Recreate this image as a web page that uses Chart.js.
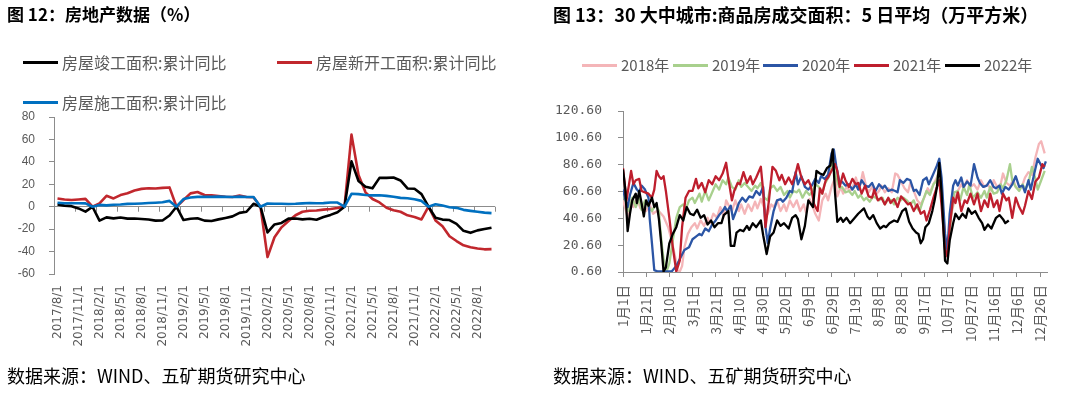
<!DOCTYPE html>
<html>
<head>
<meta charset="utf-8">
<script src="https://cdn.jsdelivr.net/npm/chart.js@4.4.1/dist/chart.umd.min.js"></script>
<style>
body{margin:0;width:1080px;height:398px;background:#fff;position:relative;overflow:hidden;font-family:"Noto Sans CJK SC",sans-serif}
canvas{position:absolute;top:0}
.t{position:absolute;white-space:nowrap;color:#000}
.title{font-weight:bold;font-size:17px;top:3px;line-height:22px}
.note{font-size:18px;top:363px;line-height:24px}
.lg{position:absolute;display:flex;align-items:center;color:#595959;white-space:nowrap;line-height:20px}
.lg i{display:inline-block;width:35px;height:3px;margin-right:4px}
</style>
</head>
<body>
<canvas id="c1" width="540" height="398" style="left:0"></canvas>
<canvas id="c2" width="540" height="398" style="left:540px"></canvas>

<div class="t title" style="left:7px">图 12：房地产数据（%）</div>
<div class="t title" style="left:553px;font-size:18px">图 13：30 大中城市:商品房成交面积：5 日平均（万平方米）</div>

<div class="lg" style="left:23px;top:52px;font-size:16px"><i style="background:#000"></i>房屋竣工面积:累计同比</div>
<div class="lg" style="left:277px;top:52px;font-size:16px"><i style="background:#C1272D"></i>房屋新开工面积:累计同比</div>
<div class="lg" style="left:23px;top:92px;font-size:16px"><i style="background:#0070C0"></i>房屋施工面积:累计同比</div>

<div class="lg" style="left:582px;top:55px;font-size:15px"><i style="background:#F4B5B8"></i>2018年</div>
<div class="lg" style="left:673px;top:55px;font-size:15px"><i style="background:#A8D08D"></i>2019年</div>
<div class="lg" style="left:763px;top:55px;font-size:15px"><i style="background:#2B55A5"></i>2020年</div>
<div class="lg" style="left:854px;top:55px;font-size:15px"><i style="background:#BE1E2D"></i>2021年</div>
<div class="lg" style="left:945px;top:55px;font-size:15px"><i style="background:#000"></i>2022年</div>

<div class="t note" style="left:7px">数据来源：WIND、五矿期货研究中心</div>
<div class="t note" style="left:553px">数据来源：WIND、五矿期货研究中心</div>

<script>
// ---------- 图12 数据（月度，累计同比 %） ----------
const months = [
  '2017/8/1','2017/9/1','2017/10/1','2017/11/1','2017/12/1',
  '2018/1/1','2018/2/1','2018/3/1','2018/4/1','2018/5/1','2018/6/1','2018/7/1','2018/8/1','2018/9/1','2018/10/1','2018/11/1','2018/12/1',
  '2019/1/1','2019/2/1','2019/3/1','2019/4/1','2019/5/1','2019/6/1','2019/7/1','2019/8/1','2019/9/1','2019/10/1','2019/11/1','2019/12/1',
  '2020/1/1','2020/2/1','2020/3/1','2020/4/1','2020/5/1','2020/6/1','2020/7/1','2020/8/1','2020/9/1','2020/10/1','2020/11/1','2020/12/1',
  '2021/1/1','2021/2/1','2021/3/1','2021/4/1','2021/5/1','2021/6/1','2021/7/1','2021/8/1','2021/9/1','2021/10/1','2021/11/1','2021/12/1',
  '2022/1/1','2022/2/1','2022/3/1','2022/4/1','2022/5/1','2022/6/1','2022/7/1','2022/8/1','2022/9/1','2022/10/1'
];
const completion = [
  2.0, 1.0, 0.5, -1.5, -4.4,
  0, -12.4, -9.5, -10.4, -9.6, -10.6, -10.5, -11.0, -11.4, -12.4, -12.3, -7.8,
  0, -11.9, -10.8, -10.3, -12.4, -12.7, -11.3, -10.0, -8.6, -5.5, -4.5, 2.6,
  0, -22.9, -15.8, -14.5, -10.6, -10.5, -11.3, -10.8, -11.6, -9.2, -7.3, -4.9,
  0, 40.4, 22.9, 17.9, 16.4, 25.7, 25.7, 26.0, 23.4, 16.3, 16.0, 11.2,
  0, -9.8, -11.5, -11.9, -15.3, -21.5, -23.3, -21.1, -19.9, -18.7
];
const newStarts = [
  7.4, 6.5, 6.0, 6.5, 7.0,
  0, 3.0, 9.7, 7.4, 10.4, 12.0, 14.4, 15.9, 16.4, 16.3, 16.8, 17.2,
  0, 6.0, 11.9, 13.1, 10.5, 10.1, 9.5, 8.9, 8.6, 10.0, 8.6, 8.5,
  0, -44.9, -27.2, -18.4, -12.8, -7.6, -4.5, -3.6, -3.4, -2.6, -2.0, -1.2,
  0, 64.3, 28.2, 12.8, 6.9, 3.8, -0.9, -3.2, -4.5, -7.7, -9.1, -11.4,
  0, -12.2, -17.5, -26.3, -30.6, -34.4, -36.1, -37.2, -38.0, -37.8
];
const underConstruction = [
  3.5, 3.1, 3.1, 3.1, 3.0,
  0, 1.6, 1.2, 1.8, 2.0, 2.5, 2.6, 2.9, 3.3, 3.6, 4.0, 5.2,
  0, 6.8, 8.2, 8.8, 8.8, 8.8, 9.0, 8.8, 8.7, 9.0, 8.7, 8.7,
  0, 2.9, 2.7, 2.6, 2.4, 2.6, 3.0, 3.3, 3.1, 3.2, 3.7, 3.7,
  0, 11.5, 11.2, 10.5, 10.1, 10.2, 9.7, 8.9, 7.9, 7.6, 6.7, 5.2,
  0, 2.2, 1.0, -0.5, -1.0, -2.8, -3.7, -4.5, -5.3, -5.7
];

// ---------- 图13 数据（[日序, 5日平均 万平方米]） ----------
const dayLabels = ['1月1日','1月21日','2月10日','3月1日','3月21日','4月10日','4月30日','5月20日','6月9日','6月29日',
  '7月19日','8月8日','8月28日','9月17日','10月7日','10月27日','11月16日','12月6日','12月26日'];
const dayTicks = [1,21,41,61,81,101,121,141,161,181,201,221,241,261,281,301,321,341,361];
const areaTicks = [0.6, 20.6, 40.6, 60.6, 80.6, 100.6, 120.6];

const s2018 = [[1,54],[3,48],[5,41],[8,54],[10,49],[13,56],[16,48],[18,51],[21,46],[24,51],[27,44],[30,46],[33,45],[36,42],[40,34],[43,24],[46,12],[48,2],[50,1],[52,5],[54,19],[57,29],[60,34],[63,37],[65,33],[68,39],[71,35],[74,41],[76,37],[79,44],[82,41],[85,49],[88,42],[90,54],[93,49],[95,46],[98,54],[101,46],[103,51],[106,44],[109,51],[112,46],[115,53],[117,48],[120,55],[123,48],[126,44],[129,51],[131,49],[134,54],[137,46],[140,51],[142,46],[145,54],[148,49],[151,54],[154,46],[157,51],[159,45],[162,55],[165,49],[167,44],[170,39],[173,54],[176,59],[178,54],[181,64],[184,71],[186,57],[189,64],[191,59],[194,64],[197,61],[199,63],[202,71],[205,62],[208,75],[211,64],[213,60],[216,64],[219,58],[222,61],[224,65],[227,60],[230,63],[233,60],[236,74],[238,73],[241,68],[244,63],[247,60],[249,67],[252,61],[255,54],[258,51],[261,56],[264,63],[266,60],[269,66],[272,71],[274,76],[276,59],[280,17],[282,22],[284,43],[287,53],[290,61],[293,66],[295,63],[298,69],[301,64],[304,66],[307,62],[310,69],[313,64],[316,66],[319,61],[321,69],[324,64],[327,66],[329,74],[332,67],[335,65],[338,69],[340,64],[343,62],[346,66],[348,71],[351,75],[354,73],[357,86],[360,96],[362,98],[365,89]];
const s2019 = [[1,61],[3,54],[6,46],[9,56],[12,49],[15,55],[17,47],[20,54],[23,49],[26,46],[29,51],[32,46],[33,34],[35,17],[37,4],[39,2],[41,7],[44,24],[47,41],[50,49],[53,51],[55,47],[58,54],[61,56],[63,52],[67,59],[69,53],[72,61],[75,54],[78,60],[81,66],[84,62],[87,69],[90,66],[92,71],[95,64],[98,62],[101,69],[103,64],[106,67],[109,64],[112,61],[115,65],[117,63],[120,67],[123,56],[126,54],[128,63],[131,65],[134,61],[137,64],[140,58],[143,61],[145,56],[148,61],[151,60],[153,62],[156,56],[159,61],[162,58],[165,61],[167,66],[170,64],[173,59],[175,66],[177,69],[179,72],[182,82],[185,71],[188,63],[190,64],[193,60],[196,61],[199,58],[201,61],[204,56],[206,58],[209,54],[211,56],[214,53],[217,57],[219,56],[222,54],[225,56],[227,51],[230,55],[233,54],[235,51],[238,56],[241,54],[243,56],[246,54],[249,51],[252,54],[254,49],[257,46],[260,54],[263,61],[266,58],[269,66],[272,69],[274,79],[277,47],[280,14],[282,19],[284,41],[287,60],[290,61],[292,54],[295,64],[298,58],[300,66],[303,56],[307,60],[310,56],[313,61],[315,56],[318,64],[321,59],[324,60],[327,66],[329,63],[332,69],[335,81],[337,69],[340,64],[343,61],[346,66],[348,62],[351,67],[354,79],[357,70],[359,62],[362,69],[365,76]];
const s2020 = [[1,62],[3,55],[5,49],[7,58],[10,67],[13,62],[15,60],[17,65],[20,62],[23,56],[24,41],[26,22],[28,2],[31,1],[37,1],[43,1],[47,5],[51,12],[54,17],[58,19],[61,25],[64,27],[67,29],[69,28],[72,33],[75,31],[78,36],[81,39],[84,43],[87,46],[89,49],[91,46],[94,50],[96,40],[99,47],[101,52],[104,56],[107,53],[110,57],[113,56],[116,61],[119,58],[122,64],[124,34],[126,22],[128,33],[131,46],[134,54],[137,55],[139,53],[142,56],[145,61],[147,60],[150,75],[152,66],[155,72],[158,64],[161,62],[164,65],[167,70],[170,67],[172,72],[175,70],[178,73],[181,89],[183,92],[185,80],[188,67],[190,68],[193,65],[196,66],[199,62],[202,66],[204,62],[207,69],[210,65],[213,64],[216,67],[219,61],[222,66],[225,63],[227,65],[230,61],[233,62],[236,61],[238,60],[240,69],[243,67],[246,70],[249,69],[252,61],[254,62],[257,58],[260,69],[263,71],[265,66],[268,72],[270,76],[272,80],[274,85],[276,71],[279,29],[281,17],[283,44],[286,65],[288,69],[290,65],[293,71],[295,64],[298,68],[301,65],[304,81],[307,71],[309,67],[312,64],[315,65],[318,69],[321,64],[323,63],[326,65],[328,59],[331,64],[334,62],[337,66],[340,72],[343,64],[346,65],[348,60],[351,69],[353,62],[356,74],[359,85],[362,80],[364,78],[366,83]];
const s2021 = [[1,78],[4,54],[8,76],[10,66],[12,69],[15,70],[17,61],[20,60],[23,59],[26,56],[28,62],[30,76],[32,72],[34,70],[36,72],[38,61],[41,41],[44,19],[47,1],[50,9],[52,34],[55,56],[58,61],[61,61],[64,70],[66,63],[69,67],[72,60],[75,69],[78,66],[81,72],[84,69],[87,74],[90,82],[92,70],[95,54],[97,61],[100,67],[102,66],[105,75],[108,67],[111,72],[113,66],[116,71],[120,79],[122,61],[124,34],[127,54],[130,79],[133,76],[136,69],[138,73],[141,66],[144,71],[147,66],[150,74],[152,81],[155,71],[158,66],[161,69],[163,65],[166,51],[169,46],[171,63],[173,59],[176,69],[178,71],[181,76],[184,81],[186,76],[188,64],[191,74],[193,69],[196,64],[199,70],[202,66],[204,67],[207,59],[210,65],[213,57],[216,56],[218,62],[221,54],[224,56],[227,51],[230,56],[232,52],[235,55],[238,49],[241,57],[244,54],[247,51],[249,52],[252,46],[255,51],[258,44],[261,46],[263,39],[266,47],[269,56],[272,64],[274,69],[276,50],[279,17],[281,12],[283,34],[286,56],[288,52],[290,60],[293,46],[296,54],[298,52],[301,59],[304,51],[307,59],[310,46],[313,54],[316,49],[318,59],[321,49],[324,54],[326,46],[329,59],[332,54],[334,56],[337,41],[340,56],[343,49],[346,44],[348,50],[351,61],[354,55],[357,68],[360,71],[363,81],[365,79]];
const s2022 = [[1,77],[3,62],[5,31],[7,44],[9,54],[12,59],[13,52],[15,61],[17,52],[19,42],[21,54],[23,50],[26,56],[28,49],[30,52],[32,40],[34,22],[36,1],[38,4],[41,22],[44,29],[47,34],[50,43],[53,39],[56,49],[59,44],[62,43],[65,47],[68,41],[71,43],[74,36],[77,39],[80,34],[83,37],[86,37],[88,43],[92,46],[94,20],[97,20],[99,30],[102,32],[105,31],[108,35],[110,32],[113,37],[116,34],[120,39],[122,28],[125,14],[128,27],[131,30],[134,39],[137,35],[140,37],[144,33],[147,41],[150,43],[152,40],[155,25],[158,35],[161,54],[165,49],[168,76],[171,74],[174,73],[177,78],[180,80],[182,92],[184,60],[186,38],[189,41],[191,38],[194,41],[197,37],[200,40],[204,44],[209,48],[212,42],[214,40],[217,43],[220,37],[223,33],[226,35],[228,34],[231,37],[235,39],[238,38],[242,46],[245,48],[248,38],[251,33],[254,30],[256,29],[258,22],[260,25],[262,34],[265,37],[268,46],[270,54],[272,64],[274,82],[276,60],[279,9],[281,7],[283,24],[286,37],[288,44],[291,40],[294,44],[297,41],[299,48],[302,44],[305,46],[308,41],[311,37],[313,32],[316,36],[319,33],[323,41],[326,43],[329,40],[331,37],[334,39]];

const axisGrey = '#8c8c8c';
const labelGrey = '#595959';

// 零轴上的刻度线（每3个月一格）
const zeroTicks = {
  id: 'zeroTicks',
  beforeDatasetsDraw(chart) {
    const ctx = chart.ctx, x = chart.scales.x, y = chart.scales.y;
    const y0 = y.getPixelForValue(0);
    const half = (x.getPixelForValue(1) - x.getPixelForValue(0)) / 2;
    ctx.save();
    ctx.strokeStyle = axisGrey;
    ctx.lineWidth = 1;
    ctx.beginPath();
    for (let i = 0; i <= months.length; i += 3) {
      const px = Math.round(x.getPixelForValue(i) - half) + 0.5;
      ctx.moveTo(px, y0);
      ctx.lineTo(px, y0 + 5);
    }
    ctx.stroke();
    ctx.restore();
  }
};

function toXY(s) {
  return s.map(p => ({ x: p[0], y: p[1] }));
}

new Chart(document.getElementById('c1'), {
  type: 'line',
  data: {
    labels: months,
    datasets: [
      { data: underConstruction, borderColor: '#0070C0', borderWidth: 2.6 },
      { data: completion, borderColor: '#000000', borderWidth: 2.6 },
      { data: newStarts, borderColor: '#C1272D', borderWidth: 2.6 }
    ]
  },
  options: {
    responsive: false,
    animation: false,
    events: [],
    layout: { padding: { left: 0, top: 117, right: 45, bottom: 34 } },
    elements: { point: { radius: 0 }, line: { tension: 0, borderJoinStyle: 'round' } },
    plugins: { legend: { display: false }, tooltip: { enabled: false } },
    scales: {
      x: {
        offset: true,
        grid: { display: false, drawTicks: false },
        border: { display: false },
        ticks: {
          autoSkip: false, maxRotation: 90, minRotation: 90, padding: 11,
          color: labelGrey, font: { family: 'DejaVu Sans', size: 12 },
          callback: (v, i) => (i % 3 === 0 ? months[i] : '')
        },
        afterFit: s => { s.height = 90; }
      },
      y: {
        min: -60, max: 80,
        ticks: { stepSize: 20, padding: 14, color: labelGrey, font: { family: 'Liberation Sans', size: 12 } },
        grid: {
          color: c => (c.tick && c.tick.value === 0 ? axisGrey : 'rgba(0,0,0,0)'),
          tickColor: axisGrey, tickLength: 5
        },
        border: { display: true, color: axisGrey },
        afterFit: s => { s.width = 54; }
      }
    }
  },
  plugins: [zeroTicks]
});

new Chart(document.getElementById('c2'), {
  type: 'line',
  data: {
    datasets: [
      { label: '2022年', data: toXY(s2022), borderColor: '#000000' },
      { label: '2021年', data: toXY(s2021), borderColor: '#BE1E2D' },
      { label: '2020年', data: toXY(s2020), borderColor: '#2B55A5' },
      { label: '2019年', data: toXY(s2019), borderColor: '#A8D08D' },
      { label: '2018年', data: toXY(s2018), borderColor: '#F4B5B8' }
    ]
  },
  options: {
    responsive: false,
    animation: false,
    events: [],
    layout: { padding: { left: 0, top: 111, right: 33, bottom: 46 } },
    elements: { point: { radius: 0 }, line: { tension: 0, borderWidth: 2.3, borderJoinStyle: 'round' } },
    plugins: { legend: { display: false }, tooltip: { enabled: false } },
    scales: {
      x: {
        type: 'linear', min: 1, max: 367,
        afterBuildTicks: s => { s.ticks = dayTicks.map(v => ({ value: v })); },
        grid: { drawOnChartArea: false, color: axisGrey, tickLength: 5 },
        border: { display: true, color: axisGrey },
        ticks: {
          autoSkip: false, maxRotation: 90, minRotation: 90, padding: 8,
          color: labelGrey, font: { family: 'Noto Sans CJK SC', size: 13.5 },
          callback: (v, i) => dayLabels[i]
        },
        afterFit: s => { s.height = 80; }
      },
      y: {
        min: 0.6, max: 120.6,
        afterBuildTicks: s => { s.ticks = areaTicks.map(v => ({ value: v })); },
        grid: { drawOnChartArea: false, color: axisGrey, tickLength: 5 },
        border: { display: true, color: axisGrey },
        ticks: {
          padding: 16, color: labelGrey, font: { family: 'DejaVu Sans Mono', size: 13 },
          callback: v => v.toFixed(2)
        },
        afterFit: s => { s.width = 83; }
      }
    }
  }
});
</script>
</body>
</html>
